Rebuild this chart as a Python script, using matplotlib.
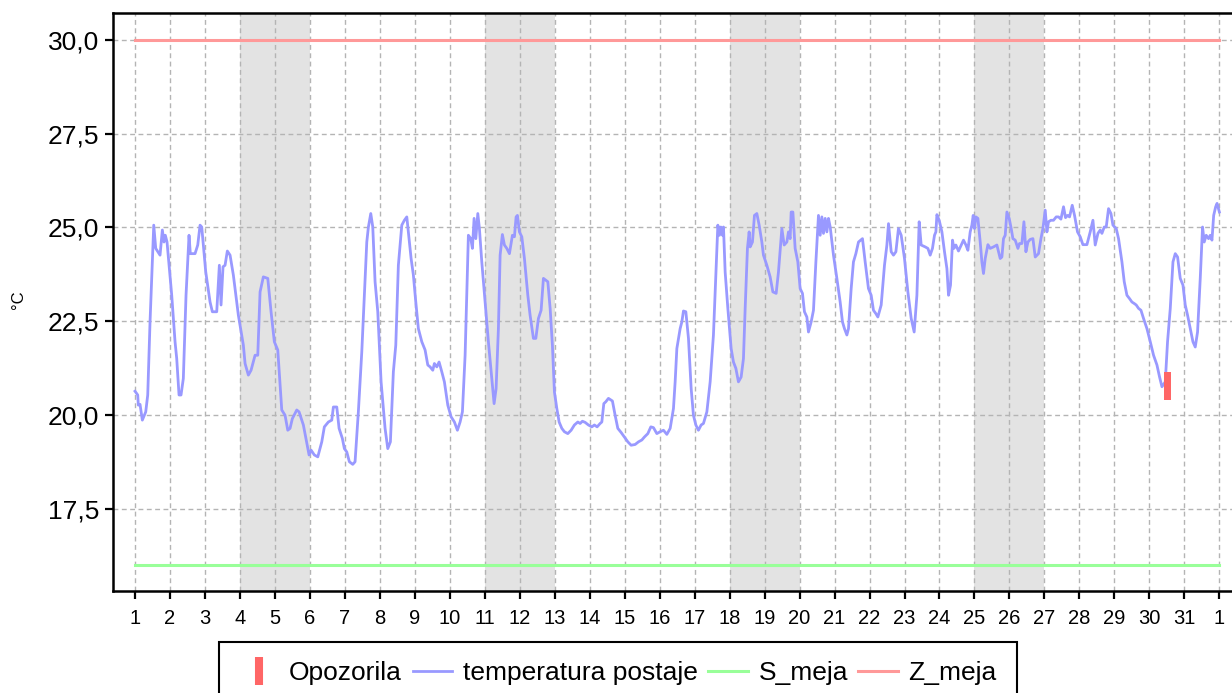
import matplotlib
matplotlib.use('Agg')
import matplotlib.pyplot as plt
from matplotlib.lines import Line2D

plt.rcParams['font.family'] = ['Liberation Sans', 'DejaVu Sans']

# days of the month (fractional) and station temperature
days = [1.000, 1.077, 1.094, 1.143, 1.209, 1.306, 1.363, 1.429, 1.535, 1.592,
        1.715, 1.781, 1.829, 1.866, 1.915, 2.049, 2.144, 2.192, 2.258, 2.315,
        2.381, 2.458, 2.544, 2.581, 2.716, 2.793, 2.859, 2.907, 3.022, 3.145,
        3.211, 3.336, 3.411, 3.459, 3.516, 3.574, 3.639, 3.717, 3.811, 3.954,
        4.097, 4.146, 4.240, 4.317, 4.432, 4.509, 4.575, 4.669, 4.795, 4.889,
        4.983, 5.081, 5.195, 5.289, 5.367, 5.432, 5.498, 5.624, 5.690, 5.813,
        5.939, 5.976, 6.033, 6.127, 6.225, 6.339, 6.413, 6.528, 6.625, 6.671,
        6.768, 6.834, 6.928, 6.985, 7.054, 7.128, 7.225, 7.291, 7.385, 7.483,
        7.577, 7.626, 7.672, 7.740, 7.797, 7.863, 7.940, 8.035, 8.149, 8.226,
        8.301, 8.386, 8.455, 8.529, 8.627, 8.701, 8.770, 8.815, 8.893, 8.958,
        9.027, 9.101, 9.199, 9.293, 9.370, 9.436, 9.513, 9.559, 9.628, 9.693,
        9.770, 9.845, 9.942, 10.036, 10.131, 10.217, 10.294, 10.360, 10.437, 10.531,
        10.600, 10.646, 10.694, 10.743, 10.800, 10.846, 10.914, 11.009, 11.103, 11.200,
        11.266, 11.323, 11.389, 11.438, 11.503, 11.561, 11.629, 11.704, 11.790, 11.847,
        11.895, 11.933, 11.990, 12.058, 12.133, 12.230, 12.295, 12.390, 12.459, 12.533,
        12.610, 12.676, 12.802, 12.868, 12.933, 12.991, 13.059, 13.125, 13.202, 13.276,
        13.373, 13.468, 13.562, 13.660, 13.725, 13.791, 13.868, 13.963, 14.060, 14.134,
        14.211, 14.297, 14.346, 14.403, 14.460, 14.535, 14.649, 14.726, 14.803, 14.898,
        14.992, 15.090, 15.184, 15.298, 15.393, 15.490, 15.564, 15.661, 15.747, 15.822,
        15.919, 16.013, 16.108, 16.205, 16.300, 16.394, 16.442, 16.491, 16.585, 16.634,
        16.680, 16.748, 16.823, 16.900, 16.965, 17.034, 17.108, 17.185, 17.251, 17.349,
        17.443, 17.537, 17.606, 17.663, 17.709, 17.749, 17.795, 17.824, 17.872, 17.949,
        18.043, 18.109, 18.178, 18.252, 18.329, 18.395, 18.444, 18.509, 18.558, 18.587,
        18.652, 18.710, 18.778, 18.844, 18.921, 18.967, 19.064, 19.158, 19.236, 19.330,
        19.396, 19.493, 19.559, 19.636, 19.682, 19.730, 19.759, 19.808, 19.873, 19.950,
        20.016, 20.082, 20.139, 20.208, 20.254, 20.331, 20.397, 20.466, 20.540, 20.589,
        20.637, 20.683, 20.732, 20.780, 20.826, 20.875, 20.969, 21.066, 21.160, 21.226,
        21.283, 21.352, 21.398, 21.475, 21.540, 21.609, 21.684, 21.798, 21.875, 21.969,
        22.047, 22.112, 22.181, 22.238, 22.333, 22.427, 22.496, 22.542, 22.619, 22.684,
        22.753, 22.827, 22.905, 22.999, 23.096, 23.191, 23.276, 23.354, 23.419, 23.476,
        23.591, 23.668, 23.734, 23.799, 23.857, 23.897, 23.926, 23.991, 24.069, 24.143,
        24.212, 24.258, 24.315, 24.372, 24.412, 24.469, 24.543, 24.686, 24.755, 24.812,
        24.878, 24.926, 24.964, 25.001, 25.041, 25.098, 25.164, 25.212, 25.258, 25.307,
        25.384, 25.450, 25.544, 25.641, 25.736, 25.784, 25.830, 25.879, 25.927, 25.993,
        26.050, 26.099, 26.165, 26.242, 26.288, 26.356, 26.414, 26.471, 26.528, 26.594,
        26.671, 26.737, 26.831, 26.900, 26.957, 27.023, 27.071, 27.117, 27.186, 27.260,
        27.337, 27.403, 27.472, 27.546, 27.603, 27.661, 27.718, 27.795, 27.861, 27.946,
        28.023, 28.100, 28.215, 28.309, 28.387, 28.452, 28.530, 28.595, 28.644, 28.710,
        28.767, 28.833, 28.902, 28.959, 29.053, 29.119, 29.216, 29.282, 29.359, 29.434,
        29.502, 29.568, 29.625, 29.691, 29.760, 29.834, 29.931, 30.026, 30.120, 30.217,
        30.292, 30.360, 30.455, 30.520, 30.598, 30.675, 30.741, 30.807, 30.883, 30.961,
        31.026, 31.092, 31.169, 31.246, 31.312, 31.378, 31.455, 31.521, 31.569, 31.626,
        31.693, 31.741, 31.790, 31.839, 31.896, 31.936, 32.002]
temps = [20.63, 20.53, 20.26, 20.28, 19.86, 20.08, 20.53, 22.48, 25.06, 24.44,
         24.26, 24.93, 24.61, 24.79, 24.61, 23.19, 21.95, 21.50, 20.53, 20.53,
         20.97, 23.19, 24.79, 24.30, 24.30, 24.53, 25.06, 25.01, 23.81, 23.01,
         22.75, 22.75, 23.99, 22.93, 23.95, 23.99, 24.37, 24.26, 23.73, 22.66,
         21.86, 21.37, 21.06, 21.19, 21.59, 21.59, 23.28, 23.68, 23.64, 22.75,
         21.95, 21.73, 20.13, 19.99, 19.59, 19.64, 19.90, 20.13, 20.08, 19.73,
         19.10, 18.93, 19.06, 18.93, 18.88, 19.28, 19.68, 19.81, 19.86, 20.21,
         20.21, 19.64, 19.37, 19.10, 19.01, 18.75, 18.68, 18.75, 20.08, 21.68,
         23.64, 24.61, 25.01, 25.37, 25.01, 23.55, 22.75, 20.88, 19.64, 19.10,
         19.28, 21.15, 21.86, 23.99, 25.06, 25.19, 25.28, 24.88, 24.17, 23.73,
         23.01, 22.30, 21.95, 21.73, 21.33, 21.28, 21.19, 21.37, 21.28, 21.41,
         21.15, 20.88, 20.26, 19.95, 19.81, 19.59, 19.81, 20.08, 21.59, 24.79,
         24.70, 24.44, 25.24, 24.70, 25.37, 24.97, 24.08, 23.01, 21.95, 20.97,
         20.30, 20.70, 22.30, 24.26, 24.81, 24.53, 24.44, 24.30, 24.79, 24.75,
         25.28, 25.32, 24.88, 24.75, 24.17, 23.19, 22.66, 22.04, 22.04, 22.57,
         22.79, 23.64, 23.55, 22.84, 21.86, 20.61, 20.17, 19.81, 19.64, 19.55,
         19.50, 19.59, 19.73, 19.81, 19.77, 19.83, 19.80, 19.73, 19.68, 19.73,
         19.68, 19.77, 19.81, 20.30, 20.35, 20.44, 20.37, 19.99, 19.64, 19.53,
         19.41, 19.28, 19.19, 19.21, 19.28, 19.33, 19.41, 19.50, 19.68, 19.66,
         19.50, 19.55, 19.59, 19.48, 19.64, 20.17, 20.88, 21.77, 22.30, 22.48,
         22.77, 22.75, 22.04, 20.70, 19.99, 19.73, 19.59, 19.73, 19.77, 20.08,
         20.88, 22.13, 23.73, 25.06, 24.79, 25.01, 24.79, 25.01, 23.81, 22.84,
         21.77, 21.41, 21.24, 20.88, 21.01, 21.50, 22.84, 24.44, 24.88, 24.48,
         24.61, 25.32, 25.37, 25.06, 24.61, 24.26, 23.99, 23.68, 23.28, 23.24,
         23.81, 24.97, 24.53, 24.61, 24.88, 24.70, 25.41, 25.41, 24.44, 24.08,
         23.37, 23.24, 22.75, 22.61, 22.21, 22.48, 22.79, 24.08, 25.32, 24.79,
         25.28, 24.84, 25.24, 24.88, 25.24, 25.01, 24.26, 23.64, 23.01, 22.48,
         22.30, 22.13, 22.30, 23.37, 24.08, 24.30, 24.61, 24.70, 24.08, 23.37,
         23.19, 22.79, 22.70, 22.61, 22.93, 23.99, 24.53, 25.10, 24.35, 24.26,
         24.35, 24.97, 24.79, 24.17, 23.28, 22.57, 22.21, 23.19, 25.15, 24.53,
         24.48, 24.44, 24.26, 24.44, 24.79, 24.88, 25.34, 25.19, 24.88, 24.35,
         23.90, 23.19, 23.46, 24.66, 24.44, 24.53, 24.37, 24.66, 24.53, 24.39,
         24.88, 25.06, 25.32, 24.97, 25.28, 25.24, 24.61, 24.08, 23.77, 24.17,
         24.54, 24.44, 24.48, 24.53, 24.17, 24.21, 24.70, 24.79, 25.41, 25.24,
         24.97, 24.70, 24.66, 24.44, 24.57, 24.57, 25.15, 24.35, 24.61, 24.68,
         24.70, 24.21, 24.30, 24.70, 24.97, 25.46, 24.88, 25.15, 25.19, 25.19,
         25.28, 25.28, 25.22, 25.55, 25.26, 25.32, 25.28, 25.59, 25.32, 24.88,
         24.75, 24.54, 24.54, 24.88, 25.19, 24.53, 24.84, 24.93, 24.84, 25.01,
         25.01, 25.50, 25.37, 25.06, 24.97, 24.70, 24.08, 23.55, 23.19, 23.10,
         23.01, 22.97, 22.93, 22.84, 22.79, 22.57, 22.30, 21.95, 21.59, 21.33,
         21.01, 20.75, 20.88, 21.95, 22.84, 24.08, 24.30, 24.21, 23.64, 23.46,
         22.93, 22.66, 22.30, 21.95, 21.81, 22.21, 23.64, 25.01, 24.61, 24.79,
         24.70, 24.79, 24.66, 25.32, 25.55, 25.64, 25.41]

# limits
s_meja = 16.0
z_meja = 30.0
limit_days = [1, 32]

# warning (opozorilo)
alarm_day = 30.51
alarm_low = 20.39
alarm_high = 21.13

# weekends
weekends = [(4, 6), (11, 13), (18, 20), (25, 27)]

tick_days = list(range(1, 33))
tick_labels = [str(d) for d in range(1, 32)] + ['1']
ytick_vals = [17.5, 20.0, 22.5, 25.0, 27.5, 30.0]

c_temp = '#9999ff'
c_s = '#99ff99'
c_z = '#ff9999'
c_alarm = '#ff6666'

fig = plt.figure(figsize=(12.32, 6.93), dpi=100)
ax = fig.add_axes([0.092, 0.1476, 0.9153, 0.8332])

for a, b in weekends:
    ax.axvspan(a, b, color='#e3e3e3', lw=0, zorder=0.5)

ax.plot(limit_days, [s_meja, s_meja], color=c_s, lw=2.2, zorder=2)
ax.plot(limit_days, [z_meja, z_meja], color=c_z, lw=2.2, zorder=2)
ax.plot(days, temps, color=c_temp, lw=2.0, zorder=3)
ax.bar([alarm_day], [alarm_high - alarm_low], bottom=[alarm_low], width=0.21,
       color=c_alarm, zorder=4)

ax.set_xlim(0.38, 32.62)
ax.set_ylim(15.31, 30.71)
ax.set_xticks(tick_days)
ax.set_xticklabels(tick_labels)
ax.set_yticks(ytick_vals)
ax.set_yticklabels(['{:.1f}'.format(v).replace('.', ',') for v in ytick_vals])
ax.tick_params(axis='x', labelsize=14.5, length=6, width=1.6, pad=7)
ax.tick_params(axis='y', labelsize=19, length=6, width=1.6, pad=4)
ax.grid(True, color='#b4b4b4', lw=1, linestyle=(0, (3.5, 2.5)))
for side in ['left', 'bottom', 'top', 'right']:
    ax.spines[side].set_linewidth(1.8)
    ax.spines[side].set_color('black')

fig.text(18 / 1232, 1 - 300 / 693, '°C', rotation=90, fontsize=12,
         ha='center', va='center')

handles = [
    Line2D([], [], color=c_alarm, marker='|', markersize=20, markeredgewidth=5.8, ls='None'),
    Line2D([], [], color=c_temp, lw=2.0),
    Line2D([], [], color=c_s, lw=2.2),
    Line2D([], [], color=c_z, lw=2.2),
]
labels = ['Opozorila', 'temperatura postaje', 'S_meja', 'Z_meja']
leg = fig.legend(handles, labels, loc='upper center', bbox_to_anchor=(0.5016, 1 - 641.7 / 693),
                 ncol=4, fontsize=19, frameon=True, fancybox=False, framealpha=1,
                 edgecolor='black', handlelength=1.5, handletextpad=0.4,
                 columnspacing=0.4, borderpad=0.75, borderaxespad=0)
leg.get_frame().set_linewidth(1.5)

fig.savefig('out.png', dpi=100)
